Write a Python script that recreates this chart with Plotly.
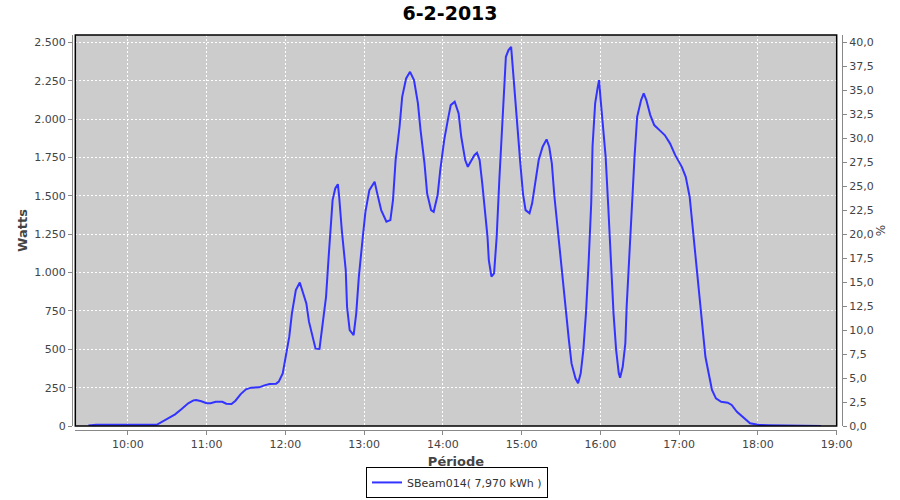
import plotly.graph_objects as go

DAY = "2013-02-06 "

times = [
    "09:30", "09:36", "10:22", "10:24", "10:29", "10:36", "10:41", "10:46", "10:50", "10:52",
    "10:56", "11:00", "11:03", "11:07", "11:12", "11:15", "11:19", "11:22", "11:26", "11:30",
    "11:34", "11:40", "11:44", "11:48", "11:53", "11:55", "11:58", "12:00", "12:03", "12:05",
    "12:08", "12:11", "12:13", "12:16", "12:18", "12:21", "12:23", "12:26", "12:28", "12:31",
    "12:33", "12:36", "12:38", "12:40", "12:41", "12:43", "12:46", "12:47", "12:49", "12:52",
    "12:54", "12:56", "12:59", "13:01", "13:04", "13:08", "13:10", "13:13", "13:17", "13:20",
    "13:22", "13:24", "13:27", "13:29", "13:32", "13:35", "13:38", "13:41", "13:43", "13:46",
    "13:48", "13:51", "13:53", "13:56", "13:58", "14:01", "14:04", "14:06", "14:09", "14:12",
    "14:14", "14:17", "14:19", "14:21", "14:24", "14:26", "14:28", "14:30", "14:32", "14:34",
    "14:35", "14:37", "14:39", "14:41", "14:43", "14:45", "14:47", "14:48", "14:50", "14:52",
    "14:53", "14:55", "14:57", "14:59", "15:01", "15:03", "15:06", "15:08", "15:11", "15:13",
    "15:16", "15:19", "15:21", "15:23", "15:25", "15:27", "15:29", "15:31", "15:33", "15:36",
    "15:38", "15:41", "15:43", "15:45", "15:47", "15:49", "15:51", "15:53", "15:54", "15:56",
    "15:58", "15:59", "16:00", "16:02", "16:04", "16:06", "16:08", "16:10", "16:12", "16:14",
    "16:15", "16:17", "16:19", "16:20", "16:22", "16:24", "16:26", "16:28", "16:31", "16:33",
    "16:35", "16:38", "16:41", "16:45", "16:49", "16:53", "16:57", "17:02", "17:05", "17:08",
    "17:10", "17:12", "17:14", "17:16", "17:18", "17:20", "17:23", "17:25", "17:28", "17:32",
    "17:37", "17:40", "17:44", "17:49", "17:54", "18:01", "18:08", "18:48",
]

watts = [
    3, 8, 8, 18, 44, 76, 111, 148, 167, 169,
    161, 148, 148, 158, 158, 145, 143, 165, 208, 239,
    250, 252, 265, 274, 276, 289, 343, 430, 582, 734,
    886, 935, 886, 799, 680, 571, 504, 502, 625, 842,
    1103, 1472, 1548, 1576, 1494, 1277, 1016, 777, 625, 593,
    734, 973, 1233, 1396, 1537, 1592, 1516, 1407, 1331, 1342,
    1472, 1733, 1950, 2145, 2265, 2308, 2254, 2102, 1928, 1711,
    1516, 1407, 1396, 1505, 1668, 1863, 2005, 2091, 2113, 2037,
    1885, 1733, 1689, 1722, 1765, 1781, 1733, 1581, 1407, 1233,
    1081, 973, 995, 1233, 1603, 1928, 2232, 2406, 2450, 2471,
    2363, 2167, 1928, 1711, 1516, 1407, 1386, 1451, 1603, 1733,
    1820, 1868, 1820, 1711, 1494, 1320, 1168, 973, 777, 560,
    408, 311, 278, 343, 495, 734, 1060, 1451, 1820, 2102,
    2210, 2254, 2145, 1972, 1754, 1429, 1060, 734, 495, 343,
    315, 386, 539, 777, 1103, 1451, 1754, 2015, 2124, 2167,
    2124, 2026, 1961, 1928, 1896, 1842, 1765, 1689, 1624, 1494,
    1320, 1168, 973, 799, 625, 451, 321, 235, 180, 158,
    152, 137, 93, 54, 18, 7, 5, 0,
]

series_name = "SBeam014( 7,970 kWh )"
title_text = "6-2-2013"
x_title = "Période"
y_title = "Watts"
y2_title = "%"

x_range = ["09:20", "19:00"]
y_max_watts = 2548
pct_full_scale = 40.0   # 2500 W == 40 %
watts_full_scale = 2500

x_vals = [DAY + t for t in times]

fig = go.Figure()
fig.add_trace(go.Scatter(
    x=x_vals, y=watts, mode="lines", name=series_name,
    line=dict(color="#3333FF", width=2),
))
fig.add_trace(go.Scatter(
    x=[x_vals[0]], y=[0], yaxis="y2", mode="none",
    showlegend=False, hoverinfo="skip",
))

tick_font = dict(family="DejaVu Sans", size=11, color="#444444")
title_font = dict(family="DejaVu Sans", size=13, color="#444444", weight="bold")

fig.update_layout(
    width=900, height=500,
    margin=dict(l=72, r=58, t=35, b=70, autoexpand=False),
    paper_bgcolor="white",
    plot_bgcolor="#CCCCCC",
    separators=",.",
    title=dict(text=title_text, x=0.5, xanchor="center", y=0.973, yanchor="middle",
               font=dict(family="DejaVu Sans", size=19, color="black", weight="bold")),
    xaxis=dict(
        type="date", range=[DAY + x_range[0], DAY + x_range[1]],
        domain=[0.0043, 0.9931],
        anchor="free", position=0,
        tickformat="%H:%M", dtick=3600000, tick0=DAY + "10:00",
        showgrid=True, gridcolor="white", griddash="2px,2px", gridwidth=1,
        showline=True, linecolor="#888888", linewidth=1,
        ticks="outside", ticklen=4, tickcolor="#888888",
        tickfont=tick_font,
        title=dict(text=x_title, font=title_font, standoff=6),
        zeroline=False, automargin=False,
    ),
    yaxis=dict(
        range=[0, y_max_watts], domain=[0.0101, 1],
        anchor="free", position=0,
        dtick=250, tickformat=",d",
        showgrid=True, gridcolor="white", griddash="2px,2px", gridwidth=1,
        showline=True, linecolor="#888888", linewidth=1,
        ticks="outside", ticklen=4, tickcolor="#888888",
        tickfont=tick_font,
        title=dict(text=y_title, font=title_font, standoff=2),
        zeroline=False, automargin=False,
    ),
    yaxis2=dict(
        range=[0, y_max_watts * pct_full_scale / watts_full_scale],
        overlaying="y", side="right", anchor="free", position=1,
        dtick=2.5, tickformat=".1f",
        showgrid=False,
        showline=True, linecolor="#888888", linewidth=1,
        ticks="outside", ticklen=4, tickcolor="#888888",
        tickfont=tick_font,
        title=dict(text=y2_title, font=dict(family="DejaVu Sans", size=12, color="#444444"), standoff=3),
        zeroline=False, automargin=False,
    ),
    showlegend=True,
    legend=dict(
        orientation="h", x=0.5, xanchor="center", y=-0.172, yanchor="bottom",
        bordercolor="black", borderwidth=1, bgcolor="white",
        font=dict(family="DejaVu Sans", size=11, color="#333333"),
        itemwidth=30,
    ),
    shapes=[dict(type="rect", xref="x domain", yref="y domain", x0=0, x1=1, y0=0, y1=1,
                 line=dict(color="black", width=1.5), layer="above")],
)

fig.write_html("out.html", config={"displayModeBar": False},
               post_script="document.body.style.margin='0px';")
